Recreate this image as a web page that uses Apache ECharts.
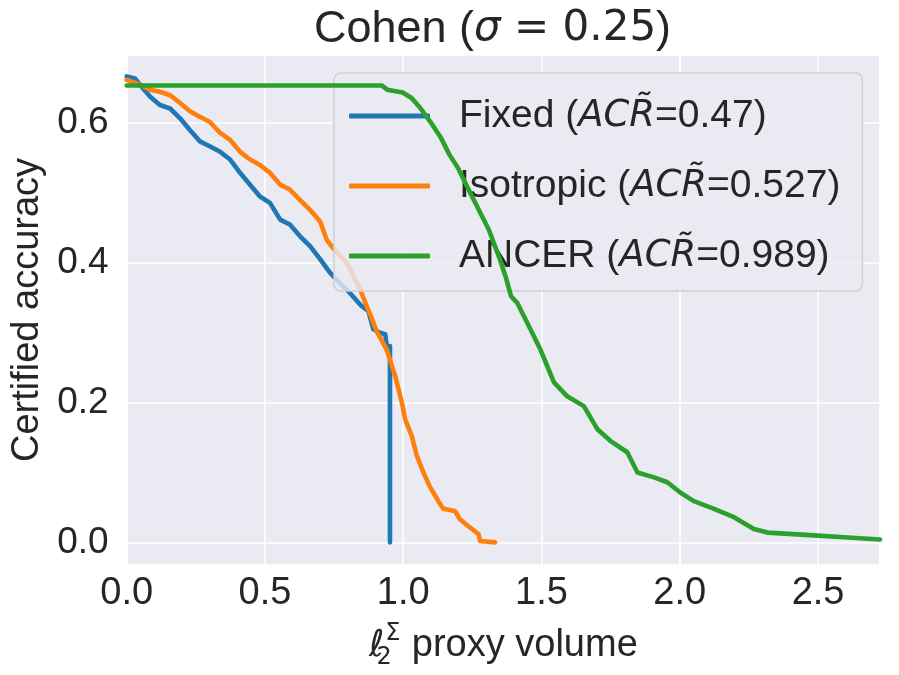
<!DOCTYPE html>
<html>
<head>
<meta charset="utf-8">
<script src="https://cdn.jsdelivr.net/npm/echarts@6/dist/echarts.min.js"></script>
<style>
html,body{margin:0;padding:0;background:#fff;}
#chart{width:899px;height:675px;}
</style>
</head>
<body>
<div id="chart"></div>
<script>
const seriesNames = ['Fixed', 'Isotropic', 'ANCER'];
const acrValues = ['0.47', '0.527', '0.989'];
const seriesColors = ['#1f77b4', '#ff7f0e', '#2ca02c'];

const fixedX = [0, 0.03, 0.048, 0.085, 0.12, 0.157, 0.193, 0.229, 0.265, 0.30, 0.338, 0.374, 0.41, 0.446, 0.482, 0.518, 0.555, 0.59, 0.627, 0.663, 0.70, 0.735, 0.771, 0.807, 0.845, 0.874, 0.892, 0.916, 0.935, 0.94, 0.952, 0.952];
const fixedY = [0.667, 0.664, 0.655, 0.638, 0.626, 0.621, 0.607, 0.590, 0.574, 0.567, 0.559, 0.548, 0.529, 0.512, 0.495, 0.486, 0.462, 0.455, 0.438, 0.424, 0.405, 0.386, 0.371, 0.357, 0.340, 0.331, 0.305, 0.300, 0.298, 0.281, 0.281, 0.0];

const isoX = [0, 0.048, 0.085, 0.12, 0.157, 0.193, 0.229, 0.265, 0.30, 0.338, 0.374, 0.41, 0.446, 0.482, 0.518, 0.555, 0.59, 0.627, 0.663, 0.70, 0.723, 0.747, 0.796, 0.82, 0.844, 0.868, 0.886, 0.904, 0.94, 0.971, 0.995, 1.007, 1.031, 1.049, 1.073, 1.097, 1.127, 1.145, 1.187, 1.205, 1.242, 1.272, 1.278, 1.332];
const isoY = [0.662, 0.655, 0.648, 0.645, 0.640, 0.629, 0.617, 0.609, 0.602, 0.586, 0.576, 0.559, 0.548, 0.540, 0.529, 0.512, 0.505, 0.490, 0.476, 0.459, 0.433, 0.421, 0.400, 0.381, 0.362, 0.338, 0.321, 0.302, 0.276, 0.238, 0.200, 0.176, 0.152, 0.124, 0.100, 0.079, 0.059, 0.048, 0.045, 0.033, 0.021, 0.012, 0.002, 0.0];

const ancerX = [0, 0.923, 0.942, 0.998, 1.03, 1.061, 1.098, 1.135, 1.167, 1.198, 1.235, 1.273, 1.31, 1.347, 1.372, 1.39, 1.412, 1.46, 1.496, 1.545, 1.593, 1.653, 1.702, 1.75, 1.81, 1.847, 1.907, 1.955, 2.003, 2.051, 2.124, 2.196, 2.268, 2.317, 2.486, 2.607, 2.724];
const ancerY = [0.654, 0.654, 0.648, 0.644, 0.636, 0.622, 0.602, 0.580, 0.555, 0.536, 0.506, 0.476, 0.447, 0.408, 0.378, 0.352, 0.343, 0.305, 0.276, 0.229, 0.209, 0.195, 0.162, 0.145, 0.129, 0.100, 0.093, 0.086, 0.071, 0.059, 0.048, 0.036, 0.019, 0.014, 0.010, 0.007, 0.004];

const xTickLabels = ['0.0', '0.5', '1.0', '1.5', '2.0', '2.5'];
const yTickLabels = ['0.0', '0.2', '0.4', '0.6'];

const FONT = '"Liberation Sans", Arial, sans-serif';
const MATH = '"DejaVu Sans", sans-serif';
const TXT = '#262626';

function zip(xs, ys) { return xs.map((x, i) => [x, ys[i]]); }
const allX = [fixedX, isoX, ancerX];
const allY = [fixedY, isoY, ancerY];

const chart = echarts.init(document.getElementById('chart'), null, {renderer: 'canvas'});
const option = {
  backgroundColor: '#ffffff',
  animation: false,
  title: {
    text: '{n|Cohen (}{i|σ}{m| = 0.25}{n|)}',
    left: 309,
    top: 2,
    textStyle: {
      fontFamily: FONT, fontSize: 45, fontWeight: 'normal', color: TXT,
      rich: {
        n: {fontFamily: FONT, fontSize: 45, color: TXT},
        i: {fontFamily: MATH, fontStyle: 'italic', fontSize: 42, color: TXT},
        m: {fontFamily: MATH, fontSize: 42, color: TXT}
      }
    }
  },
  grid: {
    left: 126.7, right: 19, top: 55, bottom: 109,
    show: true, backgroundColor: '#EAEAF2', borderWidth: 0
  },
  legend: {
    orient: 'vertical',
    left: 334, top: 73,
    padding: [22, 22, 14, 15],
    itemWidth: 81, itemHeight: 5,
    itemGap: 28,
    icon: 'roundRect',
    backgroundColor: 'rgba(234,234,242,0.8)',
    borderColor: '#cfcfd4', borderWidth: 1.5, borderRadius: 7,
    data: seriesNames,
    formatter: function (name) {
      const k = seriesNames.indexOf(name);
      return '{n|' + name + ' (}{i|ACR\u0303}{n|=' + acrValues[k] + ')}';
    },
    textStyle: {
      fontFamily: FONT, fontSize: 39, color: TXT, padding: [0, 0, 0, 24], lineHeight: 42,
      rich: {
        n: {fontFamily: FONT, fontSize: 39, color: TXT, lineHeight: 42},
        i: {fontFamily: MATH, fontStyle: 'italic', fontSize: 37, color: TXT, lineHeight: 42}
      }
    }
  },
  xAxis: {
    type: 'value',
    min: 0, max: 2.724,
    minInterval: 0.5, maxInterval: 0.5, splitNumber: 5,
    axisLine: {show: false}, axisTick: {show: false},
    axisLabel: {
      fontFamily: FONT, fontSize: 38, color: TXT, margin: 10,
      showMaxLabel: false,
      formatter: function (v) { const s = v.toFixed(1); return xTickLabels.indexOf(s) >= 0 ? s : ''; }
    },
    splitLine: {show: true, lineStyle: {color: '#ffffff', width: 1.6}},
    name: '{l|ℓ}{s|2}{p|Σ}{n| proxy volume}',
    nameLocation: 'middle',
    nameGap: 57,
    nameTextStyle: {
      fontFamily: FONT, fontSize: 38, color: TXT,
      rich: {
        l: {fontFamily: MATH, fontStyle: 'italic', fontSize: 37, color: TXT, lineHeight: 48},
        s: {fontFamily: MATH, fontSize: 24, color: TXT, width: 0, verticalAlign: 'bottom', lineHeight: 48},
        p: {fontFamily: MATH, fontSize: 24, color: TXT, width: 17, verticalAlign: 'top', lineHeight: 48},
        n: {fontFamily: FONT, fontSize: 38, color: TXT, lineHeight: 48}
      }
    }
  },
  yAxis: {
    type: 'value',
    min: -0.0324, max: 0.6976,
    minInterval: 0.2, maxInterval: 0.2, splitNumber: 4,
    axisLine: {show: false}, axisTick: {show: false},
    axisLabel: {
      fontFamily: FONT, fontSize: 37, color: TXT, margin: 18,
      showMinLabel: false, showMaxLabel: false,
      formatter: function (v) { const s = v.toFixed(1); return yTickLabels.indexOf(s) >= 0 && Math.abs(v - parseFloat(s)) < 1e-6 ? s : ''; }
    },
    splitLine: {show: true, lineStyle: {color: '#ffffff', width: 1.6}},
    name: 'Certified accuracy',
    nameLocation: 'middle',
    nameGap: 70,
    nameTextStyle: {fontFamily: FONT, fontSize: 38, color: TXT}
  },
  series: seriesNames.map((nm, k) => ({
    name: nm,
    type: 'line',
    data: zip(allX[k], allY[k]),
    showSymbol: false,
    symbol: 'none',
    color: seriesColors[k],
    lineStyle: {color: seriesColors[k], width: 4.6, cap: 'round', join: 'round'},
    clip: true,
    z: 2 + k
  }))
};
chart.setOption(option);
</script>
</body>
</html>
